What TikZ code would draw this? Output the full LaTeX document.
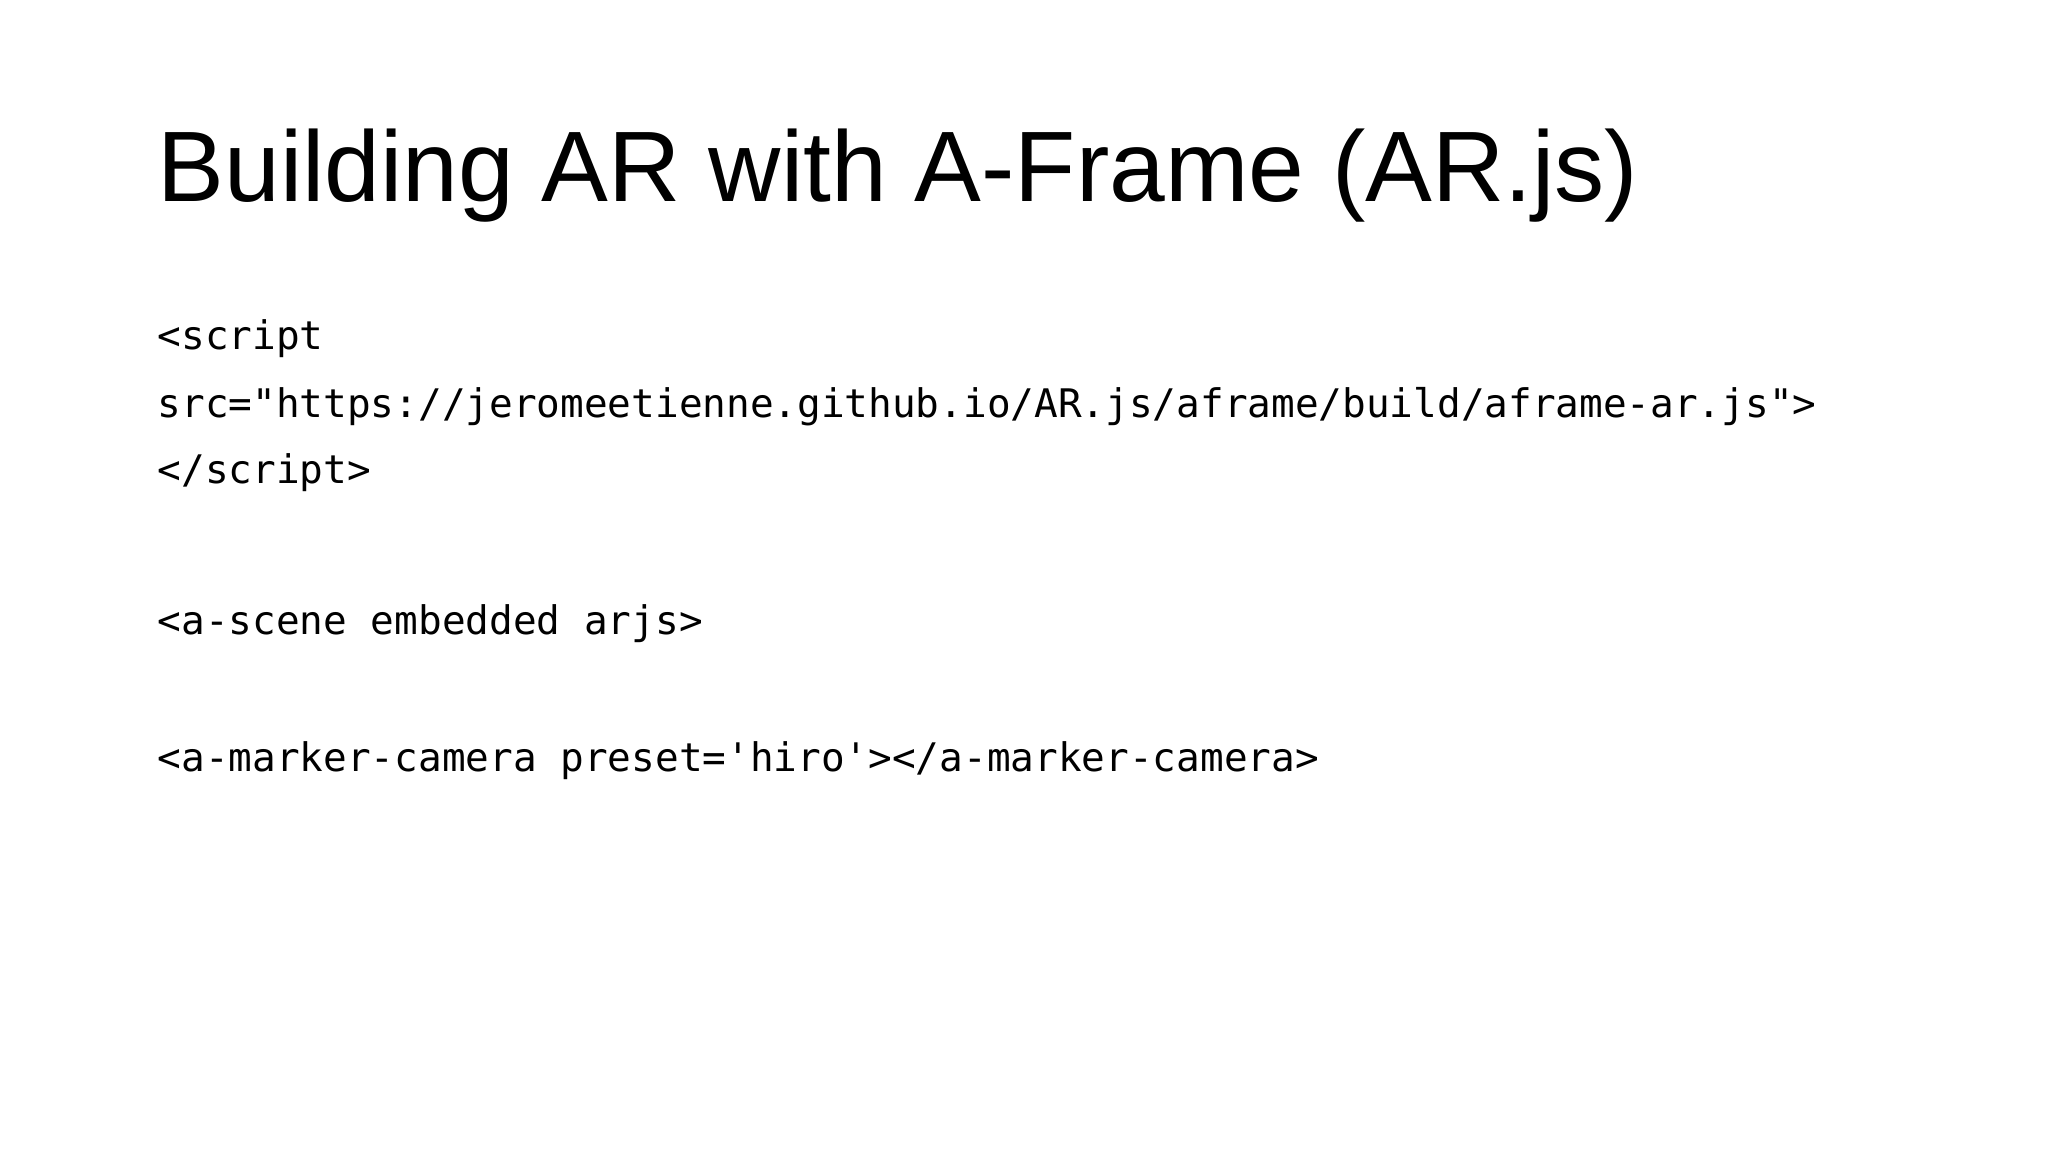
\documentclass[tikz,border=0pt]{standalone}
\usepackage{fontspec}
\setmainfont{Liberation Sans}
\newfontfamily\codefont{DejaVu Sans Mono}
\begin{document}
\begin{tikzpicture}[x=1cm,y=1cm,
  code/.style={anchor=base west,inner sep=0pt,font=\codefont\fontsize{11.2pt}{13pt}\selectfont}]
\useasboundingbox[fill=white] (0,0) rectangle (20.48,-11.52);
\node[anchor=base west,inner sep=0pt,font=\fontsize{28.5pt}{34pt}\selectfont] (title) at (1.57,-2.02) {Building AR with A-Frame (AR.js)};
\node[code] (l1) at (1.57,-3.50) {<script};
\node[code] (l2) at (1.57,-4.18) {src="https://jeromeetienne.github.io/AR.js/aframe/build/aframe-ar.js">};
\node[code] (l3) at (1.57,-4.84) {</script>};
\node[code] (l4) at (1.57,-6.35) {<a-scene embedded arjs>};
\node[code] (l5) at (1.57,-7.71) {<a-marker-camera preset='hiro'></a-marker-camera>};
\end{tikzpicture}
\end{document}
